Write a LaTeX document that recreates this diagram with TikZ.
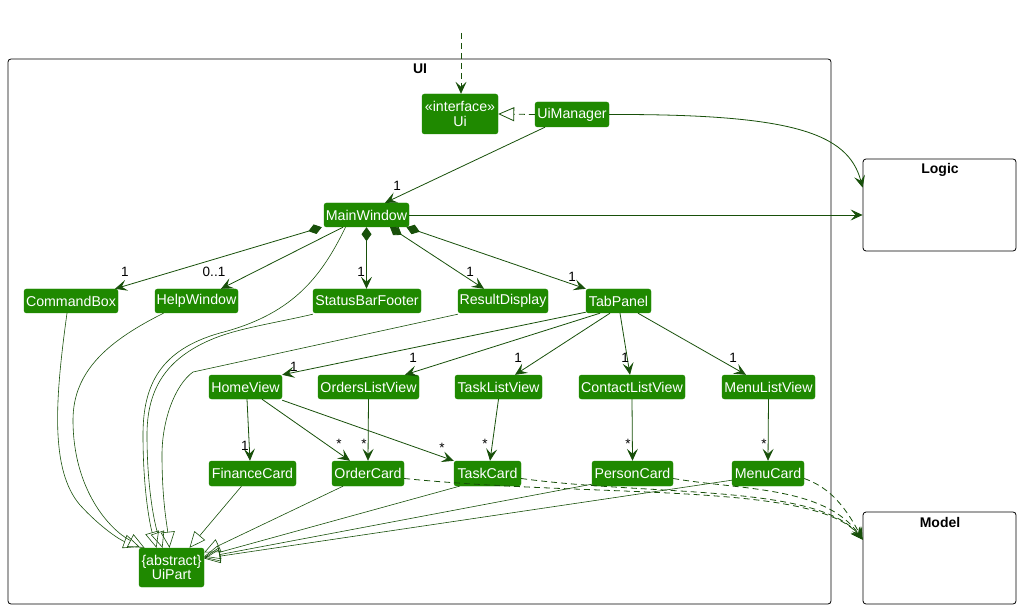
\documentclass[tikz,border=0pt]{standalone}
\usepackage{fontspec}
\setmainfont{Liberation Sans}
\usetikzlibrary{arrows.meta,calc}
\definecolor{nodegreen}{RGB}{31,137,0}
\definecolor{edgegreen}{RGB}{24,80,10}
\begin{document}
\begin{tikzpicture}[x=1pt,y=-1pt,
  cls/.style={draw=nodegreen, fill=nodegreen, rounded corners=2.5pt, text=white,
    font=\fontsize{14.2}{16}\selectfont, inner sep=0pt, minimum height=24pt, align=center},
  lab/.style={font=\fontsize{13.5}{15}\selectfont, inner sep=0pt, text=black},
  pkg/.style={draw=black, line width=0.8pt, rounded corners=3pt, inner sep=0pt},
  ptitle/.style={font=\bfseries\fontsize{14}{16}\selectfont, inner sep=0pt},
  ln/.style={draw=edgegreen, line width=0.8pt},
  arr/.style={ln, -{Stealth[length=12pt,width=11pt,inset=5pt]}},
  comp/.style={ln, {Diamond[length=14pt,width=10pt]}-{Stealth[length=12pt,width=11pt,inset=5pt]}},
  inh/.style={draw=edgegreen, line width=0.6pt, -{Triangle[open,length=16pt,width=14pt]}},
  dep/.style={ln, dash pattern=on 6pt off 4pt, -{Stealth[length=12pt,width=11pt,inset=5pt]}},
  real/.style={ln, dash pattern=on 6pt off 4pt, -{Triangle[open,length=16pt,width=14pt]}}
]
\useasboundingbox (0,0) rectangle (1025,609);
\fill[white] (0,0) rectangle (1025,609);

% packages
\node[pkg, minimum width=823pt, minimum height=545pt] (uipkg) at (419.5,331.5) {};
\node[ptitle] (uititle) at (420,69) {UI};
\node[pkg, minimum width=153pt, minimum height=92pt] (logic) at (939.5,205) {};
\node[ptitle] (logictitle) at (940,170) {Logic};
\node[pkg, minimum width=153pt, minimum height=92pt] (model) at (939.5,558) {};
\node[ptitle] (modeltitle) at (940,522) {Model};

% classes
\node[cls, minimum width=76pt, minimum height=40pt] (ui) at (460,114) {«interface»\\[-1.5pt]Ui};
\node[cls, minimum width=74pt, minimum height=25pt] (uim) at (572,114.5) {UiManager};
\node[cls, minimum width=85pt] (mw) at (366.5,215) {MainWindow};
\node[cls, minimum width=94pt] (cb) at (71,301) {CommandBox};
\node[cls, minimum width=83pt] (hw) at (196.5,301) {HelpWindow};
\node[cls, minimum width=108pt] (sbf) at (367,301) {StatusBarFooter};
\node[cls, minimum width=90pt] (rd) at (503,301) {ResultDisplay};
\node[cls, minimum width=65pt] (tp) at (618.5,301) {TabPanel};
\node[cls, minimum width=73pt] (hv) at (245.5,387) {HomeView};
\node[cls, minimum width=101pt] (olv) at (368.5,387) {OrdersListView};
\node[cls, minimum width=87pt] (tlv) at (498.5,387) {TaskListView};
\node[cls, minimum width=106pt] (clv) at (632,387) {ContactListView};
\node[cls, minimum width=93pt] (mlv) at (768.5,387) {MenuListView};
\node[cls, minimum width=87pt, minimum height=25pt] (fc) at (252.5,473.5) {FinanceCard};
\node[cls, minimum width=72pt, minimum height=25pt] (oc) at (368,473.5) {OrderCard};
\node[cls, minimum width=67pt, minimum height=25pt] (tc) at (487.5,473.5) {TaskCard};
\node[cls, minimum width=81pt, minimum height=25pt] (pc) at (632.5,473.5) {PersonCard};
\node[cls, minimum width=72pt, minimum height=25pt] (mc) at (768,473.5) {MenuCard};
\node[cls, minimum width=65pt, minimum height=39pt] (up) at (171.5,567.5) {\{abstract\}\\[-1.5pt]UiPart};

% top dependency into Ui
\coordinate (topin) at (461,33);
\draw[dep] (topin) -- (ui.north -| topin);
% realization
\draw[real] (uim.west) -- (ui.east);
% UiManager -> MainWindow
\draw[arr] ([xshift=-27pt]uim.south) -- ([xshift=18.5pt]mw.north);
\node[lab] (l0) at (397,186) {1};
% UiManager -> Logic
\draw[arr] (uim.east) .. controls (790,114) and (848,132) .. ([yshift=-29pt]logic.north west);
% MainWindow -> Logic
\draw[arr] (mw.east) -- (mw.east -| logic.west);

% MainWindow compositions
\draw[comp] ([xshift=-2pt]mw.south west) -- ([xshift=44pt]cb.north);
\node[lab] (l1) at (125,272) {1};
\draw[arr] ([xshift=-23.5pt]mw.south) -- ([xshift=24.5pt]hw.north);
\node[lab] (l2) at (214,272) {0..1};
\draw[comp] (mw.south) -- (mw.south |- sbf.north);
\node[lab] (l3) at (361,272) {1};
\draw[comp] ([xshift=23.5pt]mw.south) -- ([xshift=-19pt]rd.north);
\node[lab] (l4) at (470,272) {1};
\draw[comp] ([xshift=40pt]mw.south) -- (tp.north west);
\node[lab] (l5) at (572,277) {1};

% TabPanel -> views
\draw[arr] ([yshift=1pt]tp.south west) -- (hv.north east);
\node[lab] (l6) at (294,367) {1};
\draw[arr] ([xshift=-18.5pt]tp.south) -- ([xshift=36.5pt]olv.north);
\node[lab] (l7) at (413,358) {1};
\draw[arr] ([xshift=-8.5pt]tp.south) -- ([xshift=16.5pt]tlv.north);
\node[lab] (l8) at (518,358) {1};
\draw[arr] ([xshift=1.5pt]tp.south) -- ([xshift=-2pt]clv.north);
\node[lab] (l9) at (625,358) {1};
\draw[arr] ([xshift=19.5pt]tp.south) -- ([xshift=-22.5pt]mlv.north);
\node[lab] (l10) at (733,358) {1};

% views -> cards
\draw[arr] ([xshift=1.5pt]hv.south) -- ([xshift=-2.5pt]fc.north);
\node[lab] (l11) at (245,446) {1};
\draw[arr] ([xshift=16.5pt]hv.south) -- ([xshift=-18pt]oc.north);
\node[lab] (l12) at (339,444) {*};
\draw[arr] ([yshift=-1pt]hv.south east) -- (tc.north west);
\node[lab] (l13) at (442,448) {*};
\draw[arr] (olv.south) -- (oc.north);
\node[lab] (l14) at (364,444) {*};
\draw[arr] (tlv.south) -- ([xshift=2.5pt]tc.north);
\node[lab] (l15) at (485,444) {*};
\draw[arr] (clv.south) -- (pc.north);
\node[lab] (l16) at (628,444) {*};
\draw[arr] (mlv.south) -- (mc.north);
\node[lab] (l17) at (764,444) {*};

% inheritance to UiPart
\draw[inh] ([xshift=-4pt]cb.south) .. controls (55,400) and (50,470) .. (80,505)
  .. controls (100,527) and (120,540) .. ([xshift=-32pt,yshift=1pt]up.north);
\draw[inh] ([xshift=-33pt]hw.south) .. controls (110,340) and (73,370) .. (73,420)
  .. controls (73,490) and (110,530) .. ([xshift=-27pt]up.north);
\draw[inh] ([xshift=-21pt]mw.south) .. controls (320,280) and (290,315) .. (220,333)
  .. controls (160,350) and (143,385) .. (143,435)
  .. controls (143,490) and (150,525) .. ([xshift=-15pt]up.north);
\draw[inh] ([yshift=-1pt]sbf.south west) .. controls (280,322) and (240,328) .. (215,338)
  .. controls (165,358) and (147,390) .. (147,435)
  .. controls (147,490) and (155,525) .. ([xshift=-9pt]up.north);
\draw[inh] ([yshift=-1pt]rd.south west) -- (193,372)
  .. controls (175,385) and (162,420) .. (162,455)
  .. controls (162,500) and (167,525) .. ([xshift=-2pt]up.north);
\draw[inh] ([xshift=-11pt]fc.south) -- ([xshift=18pt]up.north);
\draw[inh] ([xshift=-25pt]oc.south) -- ([yshift=15pt]up.east);
\draw[inh] ([xshift=-28pt]tc.south) -- ([yshift=11pt]up.east);
\draw[inh] ([yshift=2pt]pc.south west) -- ([yshift=10pt]up.east);
\draw[inh] ([yshift=6pt]mc.south west) -- ([yshift=9pt]up.east);

% dependencies to Model
\coordinate (modin) at ([yshift=-28pt]model.north west);
\draw[dep] ([yshift=-5pt]oc.east) .. controls (600,498) and (815,482) .. (modin);
\draw[dep] ([yshift=-5pt]tc.east) .. controls (650,496) and (818,484) .. (modin);
\draw[dep] ([yshift=-5pt]pc.east) .. controls (740,490) and (825,486) .. (modin);
\draw[dep] ([yshift=-5pt]mc.east) .. controls (825,486) and (842,500) .. (modin);
\end{tikzpicture}
\end{document}
